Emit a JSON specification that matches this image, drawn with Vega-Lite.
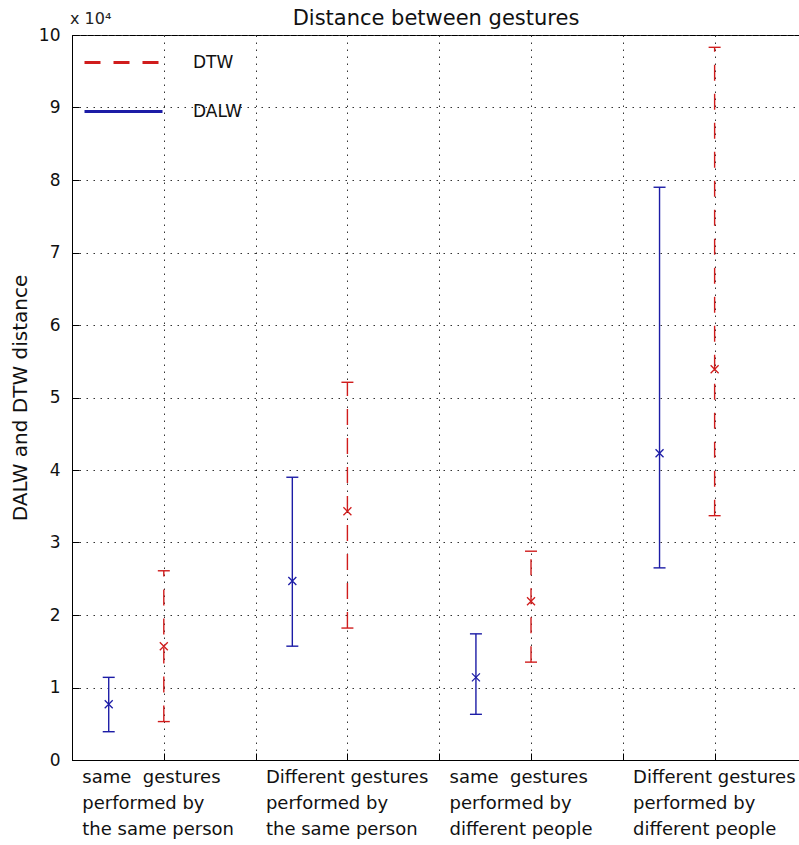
{
  "$schema": "https://vega.github.io/schema/vega-lite/v6.json",
  "width": 728,
  "height": 725,
  "autosize": "none",
  "padding": {"left": 72, "top": 35, "right": 0, "bottom": 85},
  "background": "white",
  "title": {"text": "Distance between gestures", "fontSize": 21, "font": "DejaVu Sans", "fontWeight": "normal", "color": "#111", "offset": -18, "anchor": "middle", "frame": "group"},
  "config": {
    "view": {"stroke": "#000", "strokeWidth": 1},
    "font": "DejaVu Sans",
    "axis": {"domainColor": "#000", "tickColor": "#000", "labelColor": "#111", "titleColor": "#111", "labelFont": "DejaVu Sans", "titleFont": "DejaVu Sans", "titleFontWeight": "normal", "gridColor": "#333", "gridDash": [1.5, 5.5], "gridWidth": 1, "tickSize": -7}
  },
  "datasets": {
    "bars": [
      {"group": "same gestures, same person", "method": "DALW", "x": 0.4, "low": 0.39, "mid": 0.77, "high": 1.14},
      {"group": "same gestures, same person", "method": "DTW", "x": 1, "low": 0.53, "mid": 1.57, "high": 2.61},
      {"group": "different gestures, same person", "method": "DALW", "x": 2.4, "low": 1.57, "mid": 2.47, "high": 3.90},
      {"group": "different gestures, same person", "method": "DTW", "x": 3, "low": 1.82, "mid": 3.43, "high": 5.21},
      {"group": "same gestures, different people", "method": "DALW", "x": 4.4, "low": 0.63, "mid": 1.14, "high": 1.74},
      {"group": "same gestures, different people", "method": "DTW", "x": 5, "low": 1.35, "mid": 2.19, "high": 2.88},
      {"group": "different gestures, different people", "method": "DALW", "x": 6.4, "low": 2.65, "mid": 4.23, "high": 7.90},
      {"group": "different gestures, different people", "method": "DTW", "x": 7, "low": 3.37, "mid": 5.39, "high": 9.83}
    ],
    "note": [{"x": 0, "y": 10, "label": "x 10⁴"}]
  },
  "layer": [
    {
      "data": {"name": "bars"},
      "mark": {"type": "rule", "strokeWidth": 1.4},
      "encoding": {
        "x": {"field": "x", "type": "quantitative", "scale": {"domain": [0, 7.93], "nice": false, "zero": false},
          "axis": {"orient": "bottom", "values": [0, 1, 2, 3, 4, 5, 6, 7], "grid": true, "title": null,
            "labelExpr": "datum.value == 1 ? ['same\u00a0 gestures', 'performed by', 'the same person'] : datum.value == 3 ? ['Different gestures', 'performed by', 'the same person'] : datum.value == 5 ? ['same\u00a0 gestures', 'performed by', 'different people'] : datum.value == 7 ? ['Different gestures', 'performed by', 'different people'] : ''",
            "labelAlign": "left", "labelOffset": -82, "labelBaseline": "top", "labelLineHeight": 26, "labelFontSize": 18, "labelPadding": 15, "labelOverlap": false, "labelBound": false, "labelFlush": false, "labelLimit": 0}},
        "y": {"field": "low", "type": "quantitative", "scale": {"domain": [0, 10], "nice": false},
          "axis": {"values": [0, 1, 2, 3, 4, 5, 6, 7, 8, 9, 10], "format": "d", "grid": true, "title": "DALW and DTW distance", "titleFontSize": 20, "titlePadding": 8, "labelFontSize": 17, "labelPadding": 19}},
        "y2": {"field": "high"},
        "color": {"field": "method", "type": "nominal", "scale": {"domain": ["DTW", "DALW"], "range": ["#d01c1c", "#1c1ca6"]},
          "legend": {"title": null, "orient": "none", "legendX": 11, "legendY": -13, "symbolType": "stroke", "symbolSize": 6084, "symbolStrokeWidth": 3, "labelFontSize": 17, "labelOffset": 29, "labelFont": "DejaVu Sans", "labelColor": "#111", "rowPadding": -7, "padding": 0}},
        "strokeDash": {"field": "method", "type": "nominal", "scale": {"domain": ["DTW", "DALW"], "range": [[16, 13], [1, 0]]},
          "legend": {"title": null, "orient": "none", "legendX": 11, "legendY": -13, "symbolType": "stroke", "symbolSize": 6084, "symbolStrokeWidth": 3, "labelFontSize": 17, "labelOffset": 29, "labelFont": "DejaVu Sans", "labelColor": "#111", "rowPadding": -7, "padding": 0}}
      }
    },
    {
      "data": {"name": "bars"},
      "transform": [{"fold": ["low", "high"], "as": ["end", "v"]}],
      "mark": {"type": "tick", "orient": "horizontal", "size": 12, "thickness": 1.4, "opacity": 1},
      "encoding": {
        "x": {"field": "x", "type": "quantitative", "axis": {"title": null}},
        "y": {"field": "v", "type": "quantitative", "axis": {"title": "DALW and DTW distance"}},
        "color": {"field": "method", "type": "nominal", "legend": null}
      }
    },
    {
      "data": {"name": "bars"},
      "mark": {"type": "point", "shape": "M-1,-1L1,1M-1,1L1,-1", "filled": false, "size": 64, "strokeWidth": 1.3, "opacity": 1},
      "encoding": {
        "x": {"field": "x", "type": "quantitative", "axis": {"title": null}},
        "y": {"field": "mid", "type": "quantitative", "axis": {"title": "DALW and DTW distance"}},
        "color": {"field": "method", "type": "nominal", "legend": null}
      }
    },
    {
      "data": {"name": "note"},
      "mark": {"type": "text", "align": "left", "baseline": "bottom", "dx": -2, "dy": -8, "fontSize": 16, "font": "DejaVu Sans", "color": "#222"},
      "encoding": {
        "x": {"field": "x", "type": "quantitative", "axis": {"title": null}},
        "y": {"field": "y", "type": "quantitative", "axis": {"title": "DALW and DTW distance"}},
        "text": {"field": "label"}
      }
    }
  ]
}
